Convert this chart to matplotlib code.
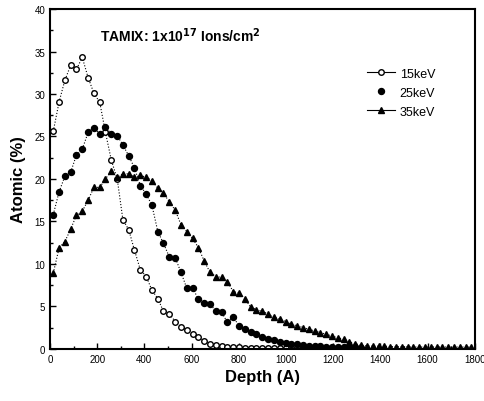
import numpy as np
import matplotlib
matplotlib.use("Agg")
import matplotlib.pyplot as plt
from matplotlib.ticker import MultipleLocator
from matplotlib.lines import Line2D

plt.rcParams['font.family'] = ['Liberation Sans', 'DejaVu Sans']

# depth grid shared by the three profiles (Angstrom)
depth = [14, 39, 63, 88, 112, 137, 162, 186, 211, 235, 260, 285, 309, 334, 358,
         383, 408, 432, 457, 481, 506, 531, 555, 580, 604, 629, 654, 678, 703, 727,
         752, 777, 801, 826, 850, 875, 900, 924, 949, 973, 998, 1023, 1047, 1072,
         1096, 1121, 1146, 1170, 1195, 1219, 1244, 1269, 1293, 1318, 1342, 1367,
         1392, 1416, 1441, 1465, 1490, 1515, 1539, 1564, 1588, 1613, 1638, 1662,
         1687, 1711, 1736, 1761, 1785]

kev15 = [25.6, 29.1, 31.6, 33.4, 32.9, 34.3, 31.9, 30.1, 29.0, 25.5, 22.2, 20.0,
         15.2, 14.0, 11.6, 9.3, 8.5, 6.9, 5.9, 4.4, 4.1, 3.2, 2.6, 2.2, 1.7, 1.4,
         0.9, 0.6, 0.4, 0.3, 0.2, 0.2, 0.15, 0.1, 0.1, 0.1, 0.1, 0.1, 0.05, 0.05,
         0.05, 0.05, 0.05, 0.05]

kev25 = [15.8, 18.5, 20.3, 20.8, 22.8, 23.5, 25.5, 26.0, 25.3, 26.1, 25.3, 25.1,
         24.0, 22.7, 21.3, 19.2, 18.2, 16.9, 13.8, 12.4, 10.8, 10.7, 9.0, 7.1, 7.2,
         5.8, 5.4, 5.3, 4.4, 4.3, 3.1, 3.7, 2.7, 2.3, 2.0, 1.7, 1.4, 1.2, 1.0, 0.8,
         0.7, 0.6, 0.5, 0.4, 0.35, 0.3, 0.3, 0.25, 0.2, 0.2, 0.2, 0.15, 0.15, 0.1]

kev35 = [8.9, 11.9, 12.6, 14.1, 15.7, 16.2, 17.5, 19.0, 19.0, 20.0, 20.9, 20.2,
         20.6, 20.6, 20.2, 20.4, 20.2, 19.8, 18.9, 18.3, 17.3, 16.3, 14.6, 13.8,
         13.0, 11.9, 10.3, 9.0, 8.5, 8.4, 7.9, 6.7, 6.6, 5.9, 4.9, 4.6, 4.4, 4.1,
         3.7, 3.5, 3.2, 2.9, 2.7, 2.5, 2.3, 2.1, 1.9, 1.7, 1.5, 1.3, 1.1, 0.8, 0.6,
         0.4, 0.35, 0.3, 0.3, 0.3, 0.25, 0.25, 0.25, 0.25, 0.2, 0.2, 0.2, 0.2, 0.2,
         0.2, 0.2, 0.2, 0.2, 0.2, 0.2]

fig = plt.figure(figsize=(4.85, 4.02), dpi=100, facecolor="white")
ax = fig.add_axes([0.103, 0.13, 0.876, 0.845])

ax.plot(depth[:len(kev15)], kev15, ls=':', lw=0.8, color='black', marker='o',
        ms=4, mfc='white', mec='black', mew=1.0)
ax.plot(depth[:len(kev25)], kev25, ls=':', lw=0.8, color='black', marker='o',
        ms=4.3, mfc='black', mec='black')
ax.plot(depth[:len(kev35)], kev35, ls=':', lw=0.8, color='black', marker='^',
        ms=4.5, mfc='black', mec='black')

ax.set_xlim(0, 1800)
ax.set_ylim(0, 40)
ax.xaxis.set_major_locator(MultipleLocator(200))
ax.xaxis.set_minor_locator(MultipleLocator(100))
ax.yaxis.set_major_locator(MultipleLocator(5))
ax.yaxis.set_minor_locator(MultipleLocator(2.5))
ax.tick_params(which='both', direction='in', width=1.0, labelsize=7)
ax.tick_params(which='major', length=4)
ax.tick_params(which='minor', length=2)
for s in ax.spines.values():
    s.set_linewidth(1.5)

ax.set_xlabel("Depth (A)", fontsize=12, fontweight='bold', labelpad=4)
ax.set_ylabel("Atomic (%)", fontsize=12, fontweight='bold', labelpad=6)
ax.text(0.117, 0.905, r"TAMIX: 1x10$^{\mathbf{17}}$ Ions/cm$^{\mathbf{2}}$",
        transform=ax.transAxes, fontsize=10, fontweight='bold')

# legend as in the original: 25keV shows only its dot
handles = [
    Line2D([], [], ls='-', lw=0.8, color='black', marker='o', ms=4,
           mfc='white', mec='black'),
    Line2D([], [], ls='none', color='black', marker='o', ms=4.3, mfc='black'),
    Line2D([], [], ls='-', lw=0.8, color='black', marker='^', ms=4.5, mfc='black'),
]
ax.legend(handles, ['15keV', '25keV', '35keV'], loc='upper left',
          bbox_to_anchor=(0.72, 0.86), frameon=False, fontsize=9,
          handlelength=2.2, handletextpad=0.4, labelspacing=0.55)

fig.savefig("out.png", dpi=100)
